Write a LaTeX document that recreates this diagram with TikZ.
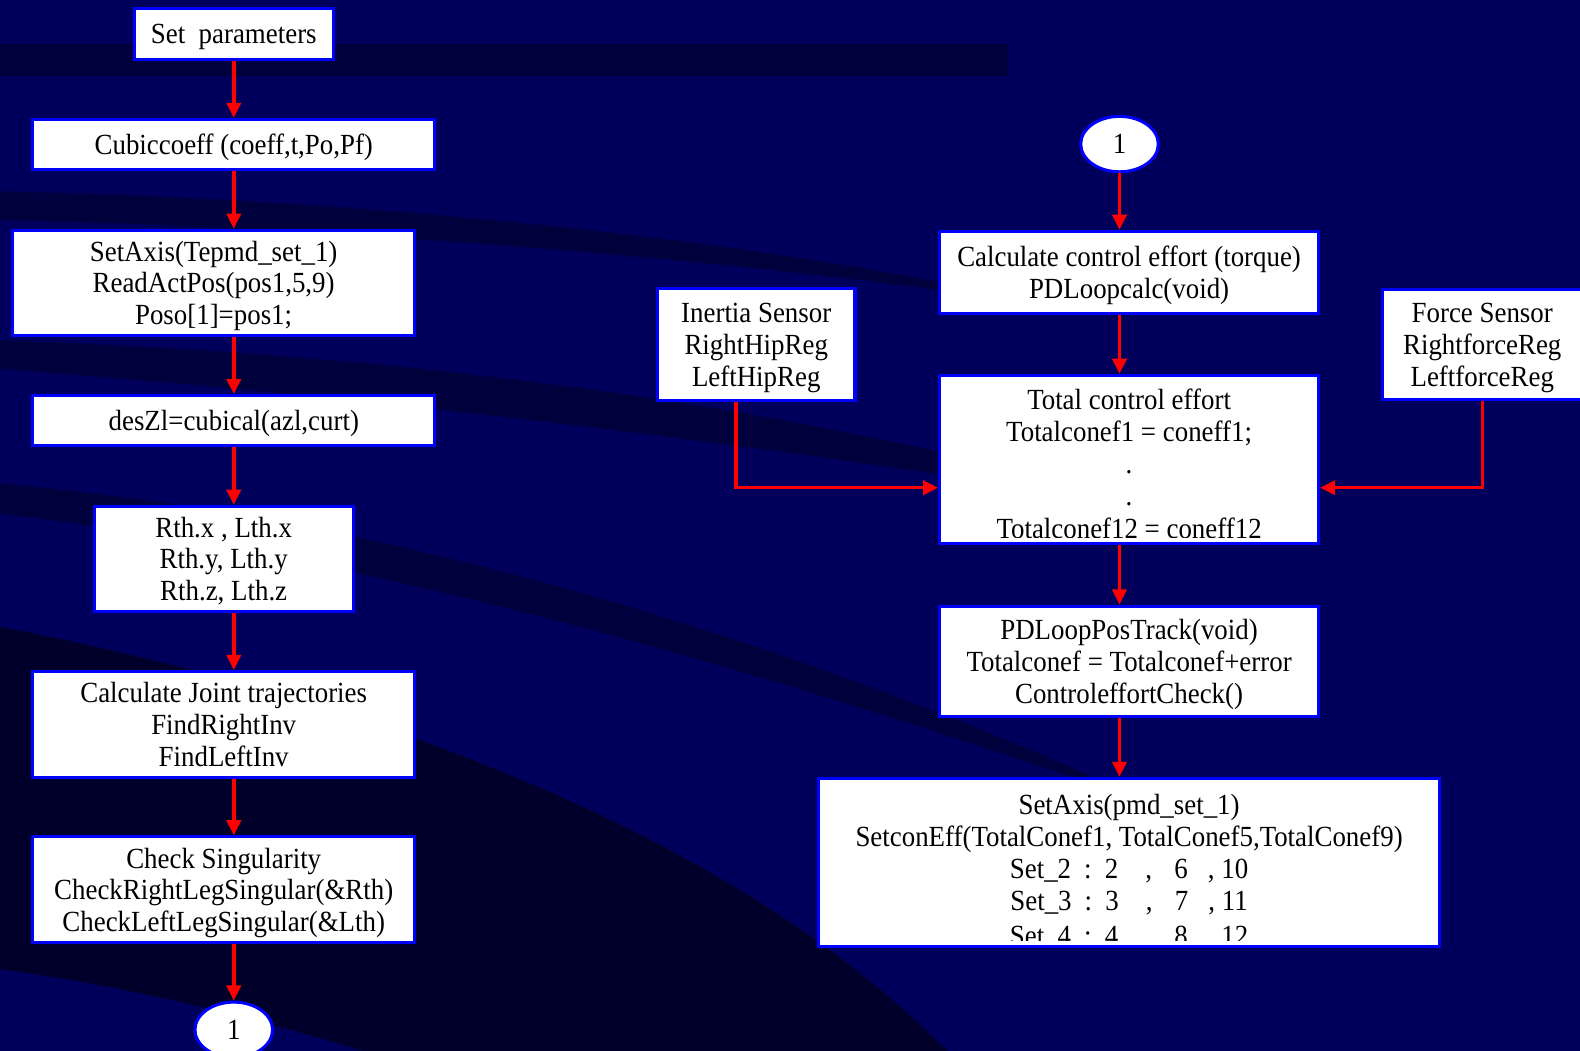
\documentclass[tikz,border=0pt]{standalone}
\usepackage{fontspec}
\setmainfont{Liberation Serif}[FakeStretch=0.92]
\usetikzlibrary{arrows.meta,shapes.geometric}
\definecolor{bgnavy}{RGB}{0,0,92}
\definecolor{bandnavy}{RGB}{0,0,60}
\definecolor{deepnavy}{RGB}{0,0,42}
\definecolor{boxblue}{RGB}{0,0,255}
\definecolor{arrred}{RGB}{255,0,0}
\tikzset{
 box/.style={draw=boxblue, line width=3pt, fill=white, inner sep=0pt, align=center, text=black, text depth=0pt},
 oval/.style={ellipse, draw=boxblue, line width=3pt, fill=white, inner sep=0pt, minimum width=77pt, minimum height=55pt, text=black},
 conn/.style={draw=arrred, line width=3.5pt, -{Triangle[length=15pt,width=14pt]}},
 txt/.style={anchor=base, inner sep=0pt, text=black},
}
\begin{document}
\begin{tikzpicture}[x=1pt,y=-1pt,font=\fontsize{29}{31.5}\selectfont]
\useasboundingbox (0,0) rectangle (1568,1043);
\clip (0,0) rectangle (1568,1043);
% background
\fill[bgnavy] (0,0) rectangle (1568,1043);
\fill[bandnavy] (0,44) -- (1000,44) -- (1000,75) -- (0,75) -- cycle;
\fill[bandnavy] (0,190) .. controls (400,198) and (800,245) .. (1050,305) .. controls (800,265) and (400,228) .. (0,218) -- cycle;
\fill[bandnavy] (0,338) .. controls (450,352) and (850,415) .. (1150,505) .. controls (850,455) and (450,400) .. (0,366) -- cycle;
\fill[bandnavy] (0,480) .. controls (400,515) and (800,640) .. (1150,800) .. controls (800,680) and (400,555) .. (0,510) -- cycle;
\fill[deepnavy] (0,622) .. controls (350,690) and (720,820) .. (940,1043) -- (360,1043) .. controls (220,1000) and (100,975) .. (0,962) -- cycle;

% left column
\node[box, minimum width=197pt, minimum height=51pt] (sp) at (232,34) {Set~~parameters};
\node[box, minimum width=399pt, minimum height=50pt] (cc) at (232,143.5) {Cubiccoeff (coeff,t,Po,Pf)};
\node[box, minimum width=399pt, minimum height=104pt] (sa) at (212,280.5) {SetAxis(Tepmd\_set\_1)\\ReadActPos(pos1,5,9)\\Poso[1]=pos1;};
\node[box, minimum width=399pt, minimum height=50pt] (dz) at (232,417.5) {desZl=cubical(azl,curt)};
\node[box, minimum width=257pt, minimum height=104pt] (rth) at (222,554.5) {Rth.x , Lth.x\\Rth.y, Lth.y\\Rth.z, Lth.z};
\node[box, minimum width=379pt, minimum height=105pt] (cj) at (222,719) {Calculate Joint trajectories\\FindRightInv\\FindLeftInv};
\node[box, minimum width=379pt, minimum height=105pt] (cs) at (222,883) {Check Singularity\\CheckRightLegSingular(\&Rth)\\CheckLeftLegSingular(\&Lth)};
\node[oval] (ea) at (232,1022) {1};

\draw[conn] (sp.south) -- (cc.north);
\draw[conn] (cc.south) -- (cc.south |- sa.north);
\draw[conn] (cc.south |- sa.south) -- (dz.north);
\draw[conn] (dz.south) -- (dz.south |- rth.north);
\draw[conn] (dz.south |- rth.south) -- (dz.south |- cj.north);
\draw[conn] (dz.south |- cj.south) -- (dz.south |- cs.north);
\draw[conn] (dz.south |- cs.south) -- (ea.north);

% right column
\node[oval] (eb) at (1111,143) {1};
\node[box, minimum width=376pt, minimum height=82pt] (cce) at (1120.5,270.5) {Calculate control effort (torque)\\PDLoopcalc(void)};
\node[box, minimum width=376pt, minimum height=167pt] (tce) at (1120.5,456) {};
\node[box, minimum width=376pt, minimum height=110pt] (pdl) at (1120.5,656.5) {PDLoopPosTrack(void)\\Totalconef = Totalconef+error\\ControleffortCheck()};
\node[box, minimum width=616pt, minimum height=167pt] (sax) at (1120.5,856) {};
\node[box, minimum width=196pt, minimum height=111pt] (ins) at (750.5,342) {Inertia Sensor\\RightHipReg\\LeftHipReg};
\node[box, minimum width=198pt, minimum height=109pt] (fs) at (1471,342) {Force Sensor\\RightforceReg\\LeftforceReg};

\begin{scope}
\clip ([yshift=8pt]tce.south west) rectangle (tce.north east);
\node[txt] (tc1) at (1120.5,406) {Total control effort};
\node[txt] (tc2) at (1120.5,438) {Totalconef1 = coneff1;};
\node[txt] (tc3) at (1120.5,470) {.};
\node[txt] (tc4) at (1120.5,502) {.};
\node[txt] (tc5) at (1120.5,534) {Totalconef12 = coneff12};
\end{scope}

\begin{scope}
\clip ([yshift=8pt]sax.south west) rectangle (sax.north east);
\node[txt] (sx1) at (1120.5,808) {SetAxis(pmd\_set\_1)};
\node[txt] (sx2) at (1120.5,840) {SetconEff(TotalConef1, TotalConef5,TotalConef9)};
\node[txt] (sx3) at (1120.5,872) {Set\_2\hspace{13pt}:\hspace{13pt}2\hspace{27pt},\hspace{22pt}6\hspace{20pt}, 10};
\node[txt] (sx4) at (1120.5,904) {Set\_3\hspace{13pt}:\hspace{13pt}3\hspace{27pt},\hspace{22pt}7\hspace{20pt}, 11};
\node[txt] (sx5) at (1120.5,938) {Set\_4\hspace{13pt}:\hspace{13pt}4\hspace{27pt},\hspace{22pt}8\hspace{20pt}, 12};
\end{scope}

\draw[conn] (eb.south) -- (eb.south |- cce.north);
\draw[conn] (eb.south |- cce.south) -- (eb.south |- tce.north);
\draw[conn] (eb.south |- tce.south) -- (eb.south |- pdl.north);
\draw[conn] (eb.south |- pdl.south) -- (eb.south |- sax.north);
\draw[conn] ([xshift=-20pt]ins.south) |- ([yshift=-28pt]tce.west);
\draw[conn] (fs.south) |- ([yshift=-28pt]tce.east);
\end{tikzpicture}
\end{document}
